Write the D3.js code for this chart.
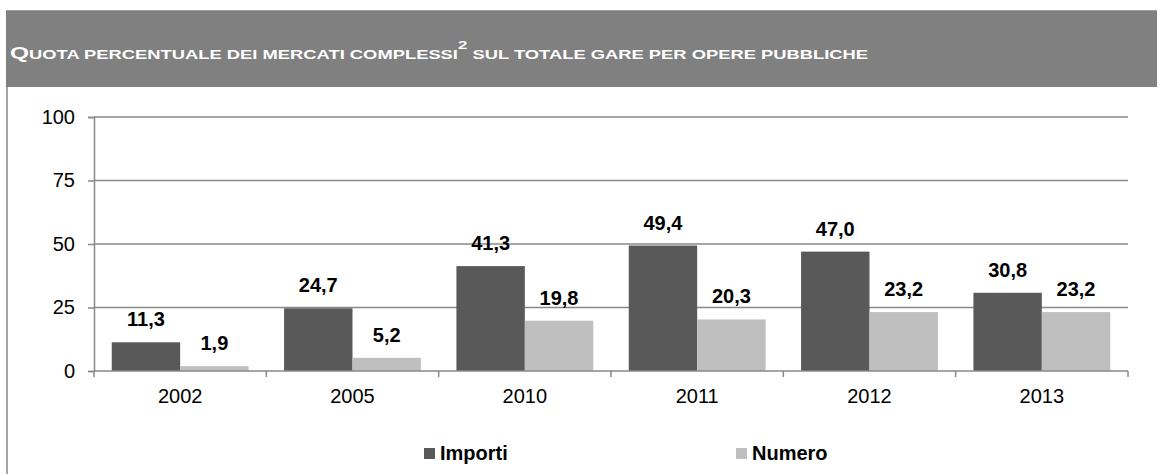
<!DOCTYPE html>
<html>
<head>
<meta charset="utf-8">
<script src="https://cdn.jsdelivr.net/npm/d3@7"></script>
<style>
  body { margin: 0; background: #fff; }
  svg { display: block; font-family: "Liberation Sans", Arial, sans-serif; }
</style>
</head>
<body>
<svg width="1161" height="474"></svg>
<script>
// data
const years = ["2002", "2005", "2010", "2011", "2012", "2013"];
const series = ["Importi", "Numero"];
const importi = [11.3, 24.7, 41.3, 49.4, 47.0, 30.8];
const numero = [1.9, 5.2, 19.8, 20.3, 23.2, 23.2];
const yTicks = [0, 25, 50, 75, 100];
const colors = ["#595959", "#bfbfbf"];

const svg = d3.select("svg");

// frame + header
svg.append("line")
    .attr("x1", 7).attr("x2", 7).attr("y1", 87).attr("y2", 474)
    .attr("stroke", "#a6a6a6").attr("stroke-width", 2);
svg.append("rect")
    .attr("x", 6).attr("y", 10).attr("width", 1151).attr("height", 77)
    .attr("fill", "#808080");
svg.append("line")
    .attr("x1", 6).attr("x2", 1157).attr("y1", 10.5).attr("y2", 10.5)
    .attr("stroke", "#a0a0a0").attr("stroke-width", 1);

const title = svg.append("text")
    .attr("x", 10).attr("y", 59)
    .attr("fill", "#fff").attr("font-weight", "bold");
title.append("tspan").attr("font-size", 16).text("Q");
title.append("tspan").attr("font-size", 12).text("UOTA PERCENTUALE DEI MERCATI COMPLESSI");
title.append("tspan").attr("font-size", 11).attr("dy", -10).text("2");
title.append("tspan").attr("font-size", 12).attr("dy", 10).text(" SUL TOTALE GARE PER OPERE PUBBLICHE");
const tw = title.node().getComputedTextLength();
title.attr("transform", `translate(10,0) scale(${859 / tw},1) translate(-10,0)`);

// scales
const x0 = d3.scaleBand().domain(years).range([94, 1128]).padding(0);
const x1 = d3.scaleBand().domain(series)
    .range([0.103 * x0.bandwidth(), 0.897 * x0.bandwidth()]);
const y = d3.scaleLinear().domain([0, 100]).range([371, 117]);

// grid
svg.append("g")
    .selectAll("line")
    .data(yTicks.filter(d => d > 0))
    .join("line")
    .attr("x1", 94).attr("x2", 1128)
    .attr("y1", d => y(d)).attr("y2", d => y(d))
    .attr("stroke", "#888").attr("stroke-width", 1.5);

// y axis
const yAxis = svg.append("g")
    .attr("transform", "translate(94,0)")
    .call(d3.axisLeft(y).tickValues(yTicks).tickSize(6).tickPadding(13));
yAxis.select(".domain").attr("stroke", "#888").attr("stroke-width", 1.5);
yAxis.selectAll(".tick line").attr("stroke", "#888").attr("stroke-width", 1.5);
yAxis.selectAll(".tick text")
    .attr("font-size", 20).attr("fill", "#000")
    .attr("font-family", "Liberation Sans, Arial, sans-serif");

// bars
const rows = years.map((yr, i) => ({ year: yr, values: [importi[i], numero[i]] }));
const groups = svg.append("g")
    .selectAll("g")
    .data(rows)
    .join("g")
    .attr("transform", d => `translate(${x0(d.year)},0)`);

groups.selectAll("rect")
    .data(d => d.values.map((v, j) => ({ key: series[j], v, j })))
    .join("rect")
    .attr("x", d => x1(d.key))
    .attr("width", x1.bandwidth())
    .attr("y", d => y(d.v))
    .attr("height", d => y(0) - y(d.v))
    .attr("fill", d => colors[d.j]);

const fmt = v => d3.format(".1f")(v).replace(".", ",");
groups.selectAll("text")
    .data(d => d.values.map((v, j) => ({ key: series[j], v, j })))
    .join("text")
    .attr("x", d => x1(d.key) + x1.bandwidth() / 2)
    .attr("y", d => y(d.v) - 16)
    .attr("text-anchor", "middle")
    .attr("font-size", 20).attr("font-weight", "bold")
    .attr("fill", "#000")
    .text(d => fmt(d.v));

// x axis
const xAxis = svg.append("g").attr("transform", `translate(0,${y(0)})`);
xAxis.append("line")
    .attr("x1", 94).attr("x2", 1128)
    .attr("stroke", "#888").attr("stroke-width", 1.5);
xAxis.selectAll(".tk")
    .data(years.map(d => x0(d)).concat([x0(years[years.length - 1]) + x0.bandwidth()]))
    .join("line")
    .attr("x1", d => d).attr("x2", d => d)
    .attr("y1", 0).attr("y2", 6)
    .attr("stroke", "#888").attr("stroke-width", 1.5);
xAxis.selectAll("text")
    .data(years)
    .join("text")
    .attr("x", d => x0(d) + x0.bandwidth() / 2)
    .attr("y", 32)
    .attr("text-anchor", "middle")
    .attr("font-size", 20).attr("fill", "#000")
    .text(d => d);

// legend
const legendX = [424, 736];
const legend = svg.append("g")
    .selectAll("g")
    .data(series)
    .join("g")
    .attr("transform", (d, i) => `translate(${legendX[i]},448)`);
legend.append("rect")
    .attr("width", 11).attr("height", 11)
    .attr("fill", (d, i) => colors[i]);
legend.append("text")
    .attr("x", 16).attr("y", 12)
    .attr("font-size", 20).attr("font-weight", "bold")
    .attr("fill", "#000")
    .text(d => d);
</script>
</body>
</html>
